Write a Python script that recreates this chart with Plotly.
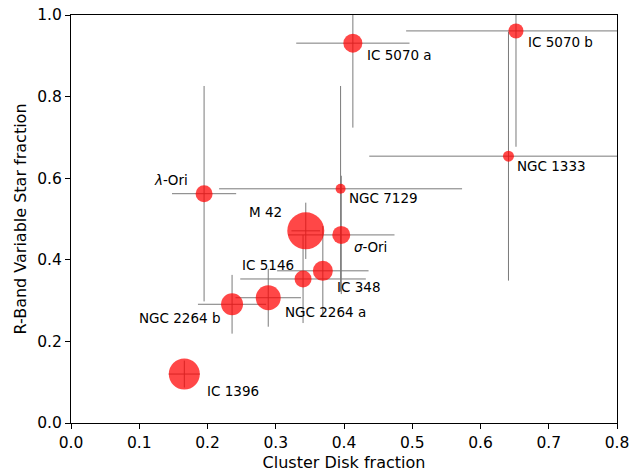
import plotly.graph_objects as go

# ---- data ----
names = ["IC 1396", "NGC 2264 b", "NGC 2264 a", "IC 5146", "IC 348", "M 42",
         "<i>σ</i>-Ori", "NGC 7129", "<i>λ</i>-Ori", "NGC 1333", "IC 5070 a", "IC 5070 b"]
disk_frac = [0.166, 0.236, 0.289, 0.340, 0.369, 0.344, 0.396, 0.395, 0.195, 0.641, 0.413, 0.652]
var_frac = [0.120, 0.291, 0.307, 0.353, 0.373, 0.471, 0.461, 0.574, 0.562, 0.654, 0.931, 0.961]
disk_err = [0.023, 0.050, 0.048, 0.092, 0.067, 0.021, 0.078, 0.178, 0.047, 0.204, 0.083, 0.161]
var_err = [0.033, 0.072, 0.071, 0.108, 0.110, 0.069, 0.145, 0.252, 0.264, 0.305, 0.207, 0.284]

# ---- styling ----
marker_diam = [31, 22, 25, 17, 20, 37, 18, 10, 17, 11, 19, 15]
# label placement: (xanchor, xshift px, yshift px)
label_pos = [("left", 21, -17), ("right", -9, -14), ("left", 15, -14), ("right", -7, 14),
             ("left", 12, -16), ("right", -22, 19), ("left", 11, -12), ("left", 6, -9),
             ("right", -14, 14), ("left", 7, -10), ("left", 12, -12), ("left", 10, -11)]

font = "DejaVu Sans, sans-serif"

fig = go.Figure()
fig.add_trace(go.Scatter(
    x=disk_frac, y=var_frac, mode="markers",
    marker=dict(size=marker_diam, color="#ff0000", opacity=0.72,
                line=dict(width=0)),
    error_x=dict(type="data", array=disk_err, color="#7a7a7a", thickness=1, width=0),
    error_y=dict(type="data", array=var_err, color="#7a7a7a", thickness=1, width=0),
    showlegend=False, hoverinfo="skip", cliponaxis=True,
))

for n, xv, yv, (anc, dx, dy) in zip(names, disk_frac, var_frac, label_pos):
    fig.add_annotation(x=xv, y=yv, xref="x", yref="y", text=n, showarrow=False,
                       xanchor=anc, yanchor="middle", xshift=dx, yshift=dy,
                       font=dict(family=font, size=13.5, color="black"))

axis_common = dict(showgrid=False, zeroline=False, showline=True, linecolor="black",
                   linewidth=1, mirror=True, ticks="outside", ticklen=5, tickcolor="black",
                   tickwidth=1, tickformat=".1f", automargin=False,
                   ticklabeloverflow="allow",
                   tickfont=dict(family=font, size=15.5, color="black"))

fig.update_xaxes(range=[0, 0.8], dtick=0.1, tick0=0,
                 title=dict(text="Cluster Disk fraction", standoff=6,
                            font=dict(family=font, size=16, color="black")),
                 **axis_common)
fig.update_yaxes(range=[0, 1.0], dtick=0.2, tick0=0,
                 title=dict(text="R-Band Variable Star fraction", standoff=6,
                            font=dict(family=font, size=16, color="black")),
                 **axis_common)

fig.update_layout(width=644, height=474, margin=dict(l=71, r=27, t=15, b=51),
                  plot_bgcolor="white", paper_bgcolor="white")

# remove the default page margin so the figure fills the window exactly
fig.write_html("out.html", config={"displayModeBar": False, "staticPlot": True},
               post_script="document.body.style.margin='0';document.body.style.overflow='hidden';")
